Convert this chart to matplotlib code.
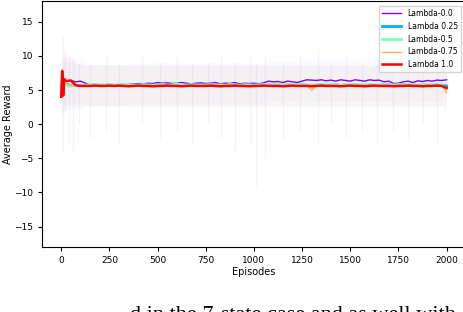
import matplotlib
matplotlib.use('Agg')
import matplotlib.pyplot as plt
import numpy as np

episodes = [0, 5, 10, 15] + list(range(25, 2001, 25))

lam_00 = [4.2, 6.5, 5.6, 6.4,
          6.3, 6.4, 6.2, 6.3, 6.0, 5.75, 5.7, 5.75, 5.7, 5.8,
          5.75, 5.7, 5.75, 5.8, 5.9, 5.95, 5.9, 6.0, 5.95, 6.1,
          6.0, 6.05, 5.95, 6.0, 6.1, 6.0, 5.9, 6.0, 6.05, 5.95,
          6.0, 6.1, 5.9, 6.0, 5.95, 6.1, 5.9, 6.0, 5.95, 6.0,
          5.9, 6.05, 6.3, 6.2, 6.25, 6.1, 6.3, 6.2, 6.1, 6.3,
          6.5, 6.45, 6.4, 6.5, 6.35, 6.45, 6.3, 6.5, 6.4, 6.3,
          6.5, 6.4, 6.3, 6.5, 6.4, 6.45, 6.2, 6.3, 5.95, 6.0,
          6.2, 6.3, 6.1, 6.35, 6.25, 6.4, 6.3, 6.45, 6.4, 6.5]
lam_025 = [5.5, 5.9, 5.6, 5.8,
           5.8, 5.7, 5.7, 5.65, 5.7, 5.7, 5.75, 5.7, 5.7, 5.75,
           5.7, 5.7, 5.75, 5.7, 5.7, 5.75, 5.7, 5.7, 5.7, 5.75,
           5.7, 5.75, 5.7, 5.7, 5.7, 5.75, 5.7, 5.7, 5.75, 5.7,
           5.7, 5.7, 5.75, 5.7, 5.7, 5.75, 5.7, 5.7, 5.7, 5.75,
           5.7, 5.7, 5.75, 5.7, 5.7, 5.7, 5.75, 5.7, 5.7, 5.75,
           5.7, 5.7, 5.7, 5.75, 5.7, 5.7, 5.75, 5.7, 5.7, 5.7,
           5.75, 5.7, 5.7, 5.75, 5.7, 5.7, 5.7, 5.75, 5.7, 5.7,
           5.75, 5.7, 5.7, 5.7, 5.75, 5.7, 5.7, 5.75, 5.7, 5.6]
lam_05 = [5.4, 5.8, 5.5, 5.7,
          5.7, 5.6, 5.7, 5.75, 5.7, 5.8, 5.7, 5.75, 5.7, 5.8,
          5.7, 5.75, 5.8, 5.7, 5.75, 5.7, 5.8, 5.75, 5.7, 5.75,
          5.8, 5.7, 5.75, 5.9, 5.75, 5.7, 5.8, 5.75, 5.7, 5.75,
          5.8, 5.7, 5.75, 5.7, 5.8, 5.75, 5.7, 5.8, 5.75, 5.7,
          5.75, 5.8, 5.7, 5.75, 5.9, 5.8, 5.75, 5.7, 5.8, 5.75,
          5.7, 5.75, 5.8, 5.7, 5.75, 5.9, 5.75, 5.7, 5.8, 5.75,
          5.7, 5.75, 5.8, 5.75, 5.7, 5.8, 5.75, 5.7, 5.75, 5.8,
          5.7, 5.75, 5.8, 5.7, 5.75, 5.8, 5.75, 5.7, 5.8, 5.1]
lam_075 = [5.3, 6.0, 5.5, 5.8,
           5.9, 5.7, 5.65, 5.6, 5.65, 5.6, 5.65, 5.6, 5.65, 5.6,
           5.65, 5.6, 5.65, 5.6, 5.65, 5.6, 5.65, 5.6, 5.65, 5.6,
           5.65, 5.6, 5.65, 5.6, 5.65, 5.6, 5.65, 5.6, 5.65, 5.6,
           5.65, 5.6, 5.65, 5.6, 5.65, 5.6, 5.65, 5.6, 5.65, 5.6,
           5.65, 5.6, 5.65, 5.6, 5.65, 5.6, 5.65, 5.6, 5.65, 5.6,
           5.65, 5.0, 5.65, 5.6, 5.65, 5.6, 5.65, 5.6, 5.65, 5.6,
           5.65, 5.6, 5.65, 5.6, 5.65, 5.6, 5.65, 5.6, 5.65, 5.6,
           5.65, 5.6, 5.65, 5.6, 5.65, 5.6, 5.65, 5.6, 5.65, 4.6]
lam_10 = [4.0, 7.8, 4.2, 6.6,
          6.3, 6.4, 5.7, 5.6, 5.6, 5.6, 5.65, 5.6, 5.6, 5.65,
          5.6, 5.65, 5.6, 5.55, 5.6, 5.65, 5.6, 5.6, 5.55, 5.6,
          5.6, 5.65, 5.6, 5.6, 5.55, 5.6, 5.65, 5.6, 5.6, 5.6,
          5.65, 5.6, 5.55, 5.6, 5.6, 5.65, 5.6, 5.6, 5.55, 5.6,
          5.6, 5.65, 5.6, 5.6, 5.6, 5.55, 5.6, 5.65, 5.6, 5.6,
          5.6, 5.55, 5.6, 5.65, 5.6, 5.6, 5.6, 5.55, 5.6, 5.65,
          5.6, 5.6, 5.55, 5.6, 5.65, 5.6, 5.6, 5.6, 5.55, 5.6,
          5.6, 5.65, 5.6, 5.6, 5.55, 5.6, 5.6, 5.65, 5.6, 5.3]

# half width of the faint band around each curve
spread = [4.0, 4.0, 4.0, 3.8,
          3.6, 3.4, 3.3, 3.2, 3.0, 3.0, 3.0, 3.0, 3.0, 3.0] + [3.0] * 70

# faint single-episode streaks
streak_ep = [10, 20, 40, 60, 90, 150, 230, 300, 420, 510, 600, 680, 760, 830, 900,
             980, 1010, 1060, 1150, 1240, 1330, 1400, 1480, 1560, 1640, 1720, 1800, 1880, 1950]
streak_lo = [-4, 2, -3, -4, 0, -2, -1, -3, 0, -2, -1, -3, 0, -2, -4,
             -3, -9, -5, -2, -1, -3, 0, -2, -1, -3, -1, -2, 0, -3]
streak_hi = [13, 11, 10, 10, 9, 9, 10, 9, 10, 9, 10, 9, 9, 10, 9,
             10, 9, 10, 9, 10, 11, 9, 10, 9, 10, 11, 9, 10, 9]

labels = ['Lambda-0.0', 'Lambda 0.25', 'Lambda-0.5', 'Lambda-0.75', 'Lambda 1.0']
series = [lam_00, lam_025, lam_05, lam_075, lam_10]
widths = [1.0, 2.0, 2.0, 1.0, 1.8]
colors = plt.cm.rainbow(np.linspace(0, 1, 5))

fig = plt.figure(figsize=(4.64, 3.12), dpi=100)
ax = fig.add_axes([0.0905, 0.208, 0.9135, 0.788])

ep = np.array(episodes)
sp = np.array(spread)
for vals, c in zip(series, colors):
    v = np.array(vals)
    ax.fill_between(ep, v - sp, v + sp, color=c, alpha=0.018, linewidth=0)
ax.vlines(streak_ep, streak_lo, streak_hi, color=colors[0], alpha=0.05, linewidth=1)

for vals, c, lw, lab in zip(series, colors, widths, labels):
    ax.plot(episodes, vals, color=c, linewidth=lw, label=lab)

ax.set_xlim(-100, 2100)
ax.set_ylim(-18, 18)
ax.set_xticks(range(0, 2001, 250))
ax.set_yticks(range(-15, 16, 5))
ax.tick_params(labelsize=6.5, length=3)
ax.set_xlabel('Episodes', fontsize=7, labelpad=1)
ax.set_ylabel('Average Reward', fontsize=7, labelpad=1)
ax.legend(loc='upper right', fontsize=5.5, handlelength=2.6, borderaxespad=0.6)

# caption line of the page below the figure, mostly cut off
fig.text(0.28, -0.027, 'd in the 7-state case and as well with', fontsize=16,
         family='Liberation Serif', ha='left', va='baseline')

fig.savefig('out.png', dpi=100)
